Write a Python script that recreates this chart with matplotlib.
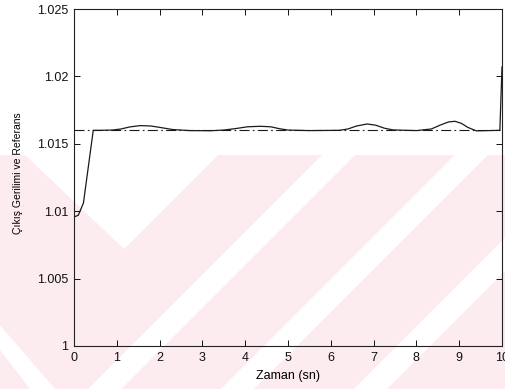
import matplotlib
matplotlib.use("Agg")
import matplotlib.pyplot as plt
from matplotlib.patches import Polygon

plt.rcParams['font.family'] = ['Liberation Sans', 'DejaVu Sans']

# Simulated output (solid) and reference level (dash-dot)
time_s = [0.0, 0.1, 0.22, 0.45, 0.6, 0.9, 1.1, 1.3, 1.55, 1.8, 2.0, 2.3,
          2.7, 3.2, 3.5, 3.8, 4.05, 4.35, 4.6, 4.8, 5.0, 5.5, 6.2, 6.4,
          6.6, 6.85, 7.05, 7.25, 7.45, 8.0, 8.35, 8.55, 8.75, 8.9, 9.05,
          9.2, 9.4, 9.7, 9.95, 10.0]
output = [1.00957, 1.0097, 1.0106, 1.0160, 1.0160, 1.01602, 1.0161, 1.01625,
          1.01635, 1.01632, 1.01622, 1.01606, 1.01598, 1.01597, 1.01602,
          1.01614, 1.01626, 1.0163, 1.01626, 1.01612, 1.01602, 1.01598,
          1.01600, 1.0161, 1.01632, 1.01647, 1.01638, 1.01616, 1.01603,
          1.01598, 1.0161, 1.01638, 1.01662, 1.01667, 1.01652, 1.01622,
          1.01596, 1.01598, 1.0160, 1.0207]
ref_time = [0.0, 9.95]
ref_level = [1.016, 1.016]

x_ticks = [0, 1, 2, 3, 4, 5, 6, 7, 8, 9, 10]
y_ticks = [1, 1.005, 1.01, 1.015, 1.02, 1.025]
y_tick_labels = ['1', '1.005', '1.01', '1.015', '1.02', '1.025']

W, H = 506, 389
fig = plt.figure(figsize=(W / 100, H / 100), dpi=100)


def px(pts):
    return [(x / W, 1 - y / H) for x, y in pts]


def add_poly(pts, color):
    fig.patches.append(Polygon(px(pts), closed=True, transform=fig.transFigure,
                               facecolor=color, edgecolor='none', zorder=-10))


# faint diagonal background stripes
pink = '#fcebef'
add_poly([(0, 155), (506, 155), (506, 389), (0, 389)], pink)
top, bot = 155, 389
for x_top, width in [(322, 33), (455, 33), (588, 33)]:
    add_poly([(x_top, top), (x_top + width, top),
              (x_top + width - (bot - top), bot), (x_top - (bot - top), bot)],
             'white')
# V-shaped notch at the upper left and a wedge in the lower corner
add_poly([(25, 155), (218, 155), (124, 249)], 'white')
add_poly([(0, 325), (0, 350), (30, 389), (55, 389)], 'white')

ax = fig.add_axes([74 / W, 1 - 346 / H, (502 - 74) / W, (346 - 9) / H])
ax.patch.set_alpha(0)
ax.set_zorder(1)

ax.plot(time_s, output, color='#1a1a1a', lw=0.9)
ax.plot(ref_time, ref_level, color='#1a1a1a', lw=0.8, linestyle='-.',
        dashes=(9, 3, 1.5, 3))

ax.set_xlim(0, 10)
ax.set_ylim(1, 1.025)
ax.set_xticks(x_ticks)
ax.set_yticks(y_ticks)
ax.set_yticklabels(y_tick_labels)
ax.tick_params(direction='in', length=4, width=0.7, top=True, right=True,
               labelsize=9, pad=4, colors='#111111')
for s in ax.spines.values():
    s.set_linewidth(0.8)
    s.set_color('#222222')

ax.set_xlabel('Zaman (sn)', fontsize=9, labelpad=5)
ax.set_ylabel('Çıkış Gerilimi ve Referans', fontsize=7.5)
ax.yaxis.set_label_coords(-(74 - 23) / (502 - 74), (346 - 173) / (346 - 9))

fig.savefig('out.png', dpi=100)
